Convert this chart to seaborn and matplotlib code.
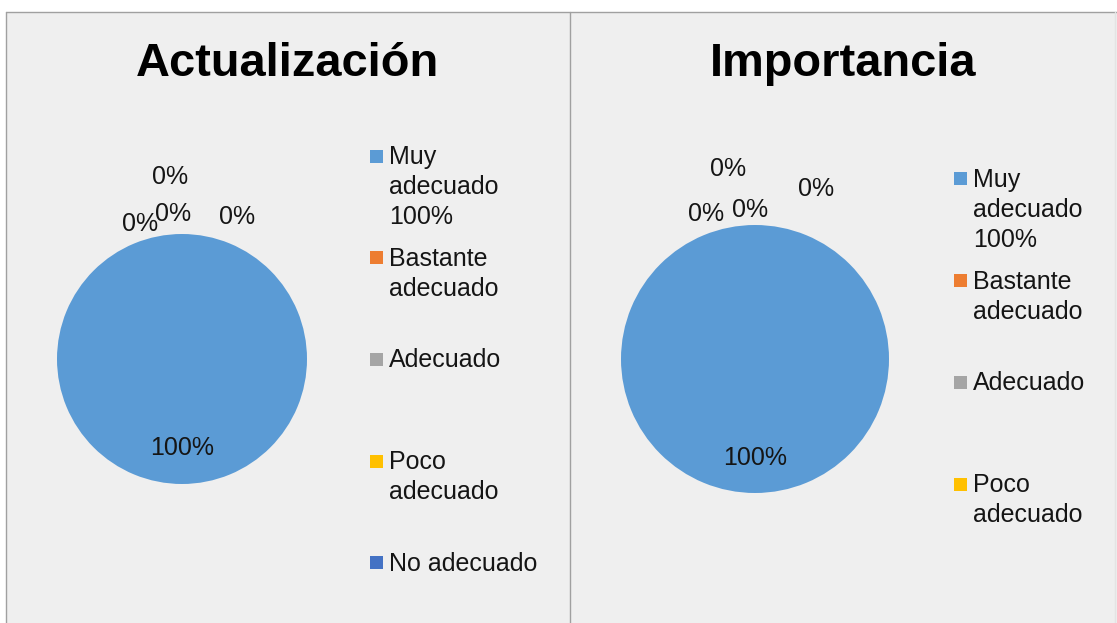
import matplotlib
matplotlib.use("Agg")
import numpy as np
import matplotlib.pyplot as plt
import seaborn as sns
from matplotlib.patches import Rectangle
from matplotlib.lines import Line2D

# Data
categories = ["Muy adecuado", "Bastante adecuado", "Adecuado", "Poco adecuado", "No adecuado"]
legend_labels = ["Muy\nadecuado\n100%", "Bastante\nadecuado", "Adecuado", "Poco\nadecuado", "No adecuado"]
actualizacion = [100, 0, 0, 0, 0]
importancia = [100, 0, 0, 0, 0]
titles = ["Actualización", "Importancia"]
colors = ["#5B9BD5", "#ED7D31", "#A5A5A5", "#FFC000", "#4472C4"]

sns.set_theme(style="white")
plt.rcParams['font.family'] = ['Liberation Sans', 'DejaVu Sans']

W, H = 1117, 623
fig = plt.figure(figsize=(W / 100, H / 100), dpi=100)
fig.patch.set_facecolor("white")


def fx(x):
    return x / W


def fy(y):
    return 1 - y / H


# panel background and borders
fig.add_artist(Rectangle((fx(6), 0), 1 - fx(6), fy(11.5), transform=fig.transFigure,
                         facecolor="#efefef", edgecolor="none", zorder=0))
for (x0, y0, x1, y1, c) in [(6, 11.5, 1117, 11.5, "#a0a0a0"), (6, 11.5, 6, 623, "#a0a0a0"),
                            (569.5, 11.5, 569.5, 623, "#a0a0a0"), (1115, 11.5, 1115, 623, "#e4e4e4")]:
    fig.add_artist(Line2D([fx(x0), fx(x1)], [fy(y0), fy(y1)], transform=fig.transFigure,
                          color=c, lw=1.0, zorder=1))

text_color = "#151515"
fs = 18

panels = [
    # (values, title x, pie center, radius, pct distance, zero label offsets, legend x, first baseline, shown)
    (actualizacion, 287, (182, 359), 125, 0.712,
     [(-12, 57), (-42, 10), (-9, 20), (55, 17)], 370, 164, 5),
    (importancia, 843.5, (755, 359), 134, 0.739,
     [(-27, 56), (-49, 11), (-5, 15), (61, 36)], 954, 187, 4),
]

for i, (vals, tx, (cx, cy), r, pctd, offsets, lx, base0, shown) in enumerate(panels):
    fig.text(fx(tx), fy(76), titles[i], ha="center", va="baseline",
             fontsize=33.8, fontweight="bold", color="black")

    ax = fig.add_axes([fx(cx - r), fy(cy + r), 2 * r / W, 2 * r / H])
    wedges, texts, autotexts = ax.pie(
        vals, colors=colors, startangle=90, counterclock=False,
        autopct=lambda p: f"{p:.0f}%" if p > 0 else "", pctdistance=pctd,
        wedgeprops=dict(linewidth=0),
        textprops=dict(fontsize=fs, color=text_color))
    ax.set_xlim(-1, 1)
    ax.set_ylim(-1, 1)
    ax.set_aspect("equal")
    ax.axis("off")

    # labels of the empty slices, pushed apart around the top of the pie
    total = sum(vals)
    zero_idx = [k for k, v in enumerate(vals) if v == 0]
    for k, (dx, dy) in zip(zero_idx, offsets):
        ang = np.deg2rad(wedges[k].theta1)
        ax.annotate(f"{100 * vals[k] / total:.0f}%", xy=(np.cos(ang), np.sin(ang)),
                    xytext=(dx, dy), textcoords="offset pixels",
                    ha="center", va="center", fontsize=fs, color=text_color,
                    annotation_clip=False)

    # legend
    pitch = 101.7
    line_pitch = 30
    for k in range(shown):
        base = base0 + k * pitch
        fig.add_artist(Rectangle((fx(lx), fy(base - 1.5)), 13 / W, 13 / H,
                                 transform=fig.transFigure, facecolor=colors[k],
                                 edgecolor="none"))
        for j, line in enumerate(legend_labels[k].split("\n")):
            fig.text(fx(lx + 19), fy(base + j * line_pitch), line, ha="left",
                     va="baseline", fontsize=fs, color=text_color)

fig.savefig("out.png", dpi=100, facecolor=fig.get_facecolor())
